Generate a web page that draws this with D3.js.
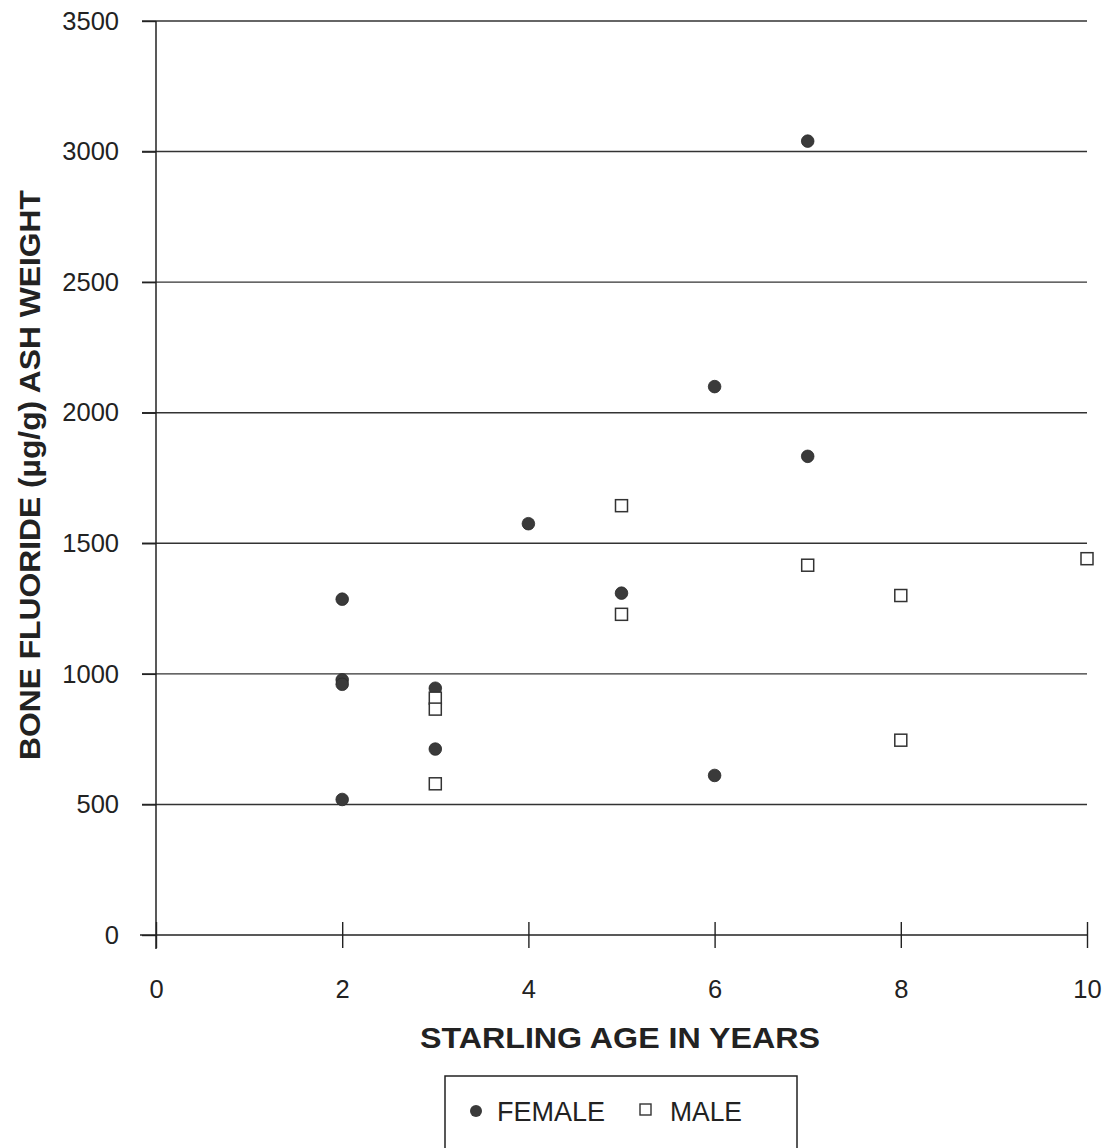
<!DOCTYPE html>
<html><head><meta charset="utf-8">
<script src="https://cdn.jsdelivr.net/npm/d3@7"></script>
<style>body{margin:0;background:#fff}svg{display:block}</style>
</head><body>
<svg id="c" width="1109" height="1148"></svg>
<script>
const femaleAge = [2, 2, 2, 2, 3, 3, 4, 5, 6, 6, 7, 7];
const femaleFluoride = [1286, 977, 960, 519, 945, 712, 1575, 1309, 2100, 611, 3040, 1833];
const maleAge = [3, 3, 3, 5, 5, 7, 8, 8, 10];
const maleFluoride = [907, 865, 579, 1644, 1228, 1416, 1300, 746, 1441];
const xTicks = [0, 2, 4, 6, 8, 10];
const yTicks = [0, 500, 1000, 1500, 2000, 2500, 3000, 3500];
const xTitle = "STARLING AGE IN YEARS";
const yTitle = "BONE FLUORIDE (µg/g) ASH WEIGHT";
const legendLabels = ["FEMALE", "MALE"];

const svg = d3.select("#c");
const ink = "#222";
const x = d3.scaleLinear().domain([0, 10]).range([156, 1087]);
const y = d3.scaleLinear().domain([0, 3500]).range([935, 21]);
const font = "Arial, 'Liberation Sans', sans-serif";

// gridlines
const grid = svg.append("g");
grid.selectAll("line").data(yTicks.filter(d => d > 0)).join("line")
  .attr("x1", x(0) - 14).attr("x2", x(10))
  .attr("y1", d => y(d)).attr("y2", d => y(d))
  .attr("stroke", "#333").attr("stroke-width", 1.4);

// y axis
const yAxis = svg.append("g").attr("transform", `translate(${x(0)},0)`)
  .call(d3.axisLeft(y).tickValues(yTicks).tickSize(14).tickPadding(23).tickFormat(d3.format("d")));
yAxis.select(".domain").attr("stroke", ink).attr("stroke-width", 1.5).attr("d", `M0,${y(3500)}V${y(0)+14}`);
yAxis.selectAll(".tick line").attr("stroke", ink).attr("stroke-width", 1.4);
yAxis.selectAll("text").attr("font-family", font).attr("font-size", 25.5).attr("fill", ink);

// x axis
const xAxis = svg.append("g").attr("transform", `translate(0,${y(0)})`)
  .call(d3.axisBottom(x).tickValues(xTicks).tickSize(13).tickPadding(32).tickFormat(d3.format("d")));
xAxis.select(".domain").attr("stroke", ink).attr("stroke-width", 1.5).attr("d", `M${x(0)-16},0H${x(10)}`);
xAxis.selectAll(".tick line").attr("stroke", ink).attr("stroke-width", 1.4).attr("y1", -13);
xAxis.selectAll("text").attr("font-family", font).attr("font-size", 25.5).attr("fill", ink);

// titles
svg.append("text").attr("x", 620).attr("y", 1048).attr("text-anchor", "middle")
  .attr("font-family", font).attr("font-weight", "bold").attr("font-size", 30).attr("fill", ink)
  .attr("textLength", 400).attr("lengthAdjust", "spacingAndGlyphs")
  .text(xTitle);
svg.append("text").attr("transform", "translate(40,475) rotate(-90)").attr("text-anchor", "middle")
  .attr("font-family", font).attr("font-weight", "bold").attr("font-size", 30).attr("fill", ink)
  .attr("textLength", 570).attr("lengthAdjust", "spacingAndGlyphs")
  .text(yTitle);

// points
const female = femaleAge.map((a, i) => ({a, v: femaleFluoride[i]}));
const male = maleAge.map((a, i) => ({a, v: maleFluoride[i]}));
svg.append("g").selectAll("circle").data(female).join("circle")
  .attr("cx", d => x(d.a)).attr("cy", d => y(d.v)).attr("r", 6.3)
  .attr("fill", "#3a3a3a").attr("stroke", "#2a2a2a").attr("stroke-width", 0.8);
svg.append("g").selectAll("rect").data(male).join("rect")
  .attr("x", d => x(d.a) - 6).attr("y", d => y(d.v) - 6).attr("width", 12).attr("height", 12)
  .attr("fill", "#fff").attr("stroke", "#333").attr("stroke-width", 1.5);

// legend
const lg = svg.append("g");
lg.append("rect").attr("x", 445).attr("y", 1076).attr("width", 352).attr("height", 100)
  .attr("fill", "none").attr("stroke", ink).attr("stroke-width", 1.5);
lg.append("circle").attr("cx", 476).attr("cy", 1111).attr("r", 6).attr("fill", "#3a3a3a");
lg.append("text").attr("x", 497).attr("y", 1121).attr("font-family", font).attr("font-size", 27).attr("fill", ink)
  .attr("textLength", 108).attr("lengthAdjust", "spacingAndGlyphs").text(legendLabels[0]);
lg.append("rect").attr("x", 640).attr("y", 1104).attr("width", 11).attr("height", 11)
  .attr("fill", "#fff").attr("stroke", "#333").attr("stroke-width", 1.4);
lg.append("text").attr("x", 670).attr("y", 1121).attr("font-family", font).attr("font-size", 27).attr("fill", ink)
  .attr("textLength", 72).attr("lengthAdjust", "spacingAndGlyphs").text(legendLabels[1]);
</script>
</body></html>
